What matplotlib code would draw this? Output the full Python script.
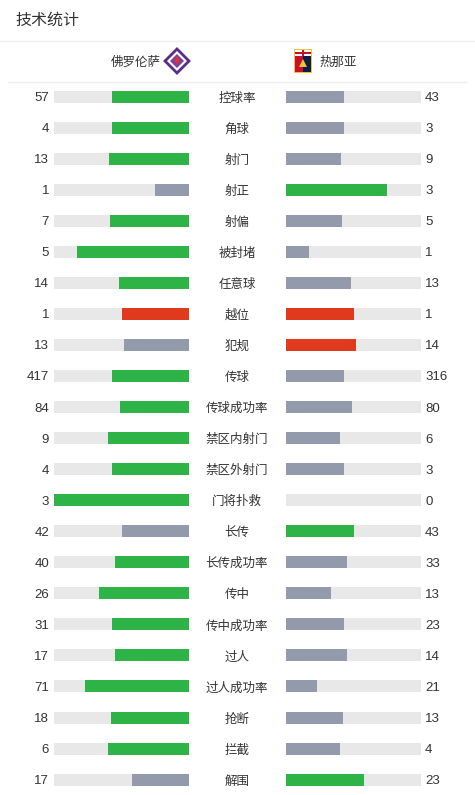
import numpy as np
import matplotlib.pyplot as plt
from matplotlib.patches import Polygon, Rectangle

plt.rcParams['font.family'] = ['Noto Sans CJK SC', 'DejaVu Sans']

home_team = '佛罗伦萨'
away_team = '热那亚'

stats = ['控球率', '角球', '射门', '射正', '射偏', '被封堵', '任意球', '越位', '犯规',
         '传球', '传球成功率', '禁区内射门', '禁区外射门', '门将扑救', '长传', '长传成功率',
         '传中', '传中成功率', '过人', '过人成功率', '抢断', '拦截', '解围']
home = [57, 4, 13, 1, 7, 5, 14, 1, 13, 417, 84, 9, 4, 3, 42, 40, 26, 31, 17, 71, 18, 6, 17]
away = [43, 3, 9, 3, 5, 1, 13, 1, 14, 316, 80, 6, 3, 0, 43, 33, 13, 23, 14, 21, 13, 4, 23]
negative_stats = ['越位', '犯规']

GREEN = '#2eb346'
GREY = '#939aab'
RED = '#e03a1e'
TRACK = '#e8e8e8'
NUM_FONT = ['Liberation Sans', 'DejaVu Sans']


def bar_colors(name, h, a):
    if name in negative_stats:
        return (RED if h >= a else GREY), (RED if a >= h else GREY)
    return (GREEN if h >= a else GREY), (GREEN if a >= h else GREY)


fig = plt.figure(figsize=(4.75, 7.95), dpi=100)
ax = fig.add_axes([0, 0, 1, 1])
ax.set_xlim(0, 475)
ax.set_ylim(795, 0)
ax.axis('off')

# title + header
ax.text(15, 20, '技术统计', fontsize=11.5, color='#333333', va='center', ha='left')
ax.plot([0, 475], [40.5, 40.5], color='#eeeeee', lw=1)
ax.plot([8, 466], [81.5, 81.5], color='#eeeeee', lw=1)
ax.text(161, 61, home_team, fontsize=9, color='#333333', va='center_baseline', ha='right')
ax.text(319, 61, away_team, fontsize=9, color='#333333', va='center_baseline', ha='left')

# fiorentina badge (simplified)
cx, cy = 177, 61
ax.add_patch(Polygon([[cx, cy - 12], [cx + 12, cy], [cx, cy + 12], [cx - 12, cy]],
                     closed=True, fc='white', ec='#5b2d86', lw=2))
ax.add_patch(Polygon([[cx, cy - 7], [cx + 7, cy], [cx, cy + 7], [cx - 7, cy]],
                     closed=True, fc='#7b3fa6', ec='none'))
ax.add_patch(Polygon([[cx, cy - 5], [cx + 3, cy], [cx, cy + 3], [cx - 3, cy]],
                     closed=True, fc='#e2342b', ec='none'))

# genoa badge (simplified)
gx, gy = 303, 61
ax.add_patch(Rectangle((gx - 9, gy - 12), 18, 24, fc='#f2c230', ec='none'))
ax.add_patch(Rectangle((gx - 8, gy - 11), 8, 22, fc='#c8102e', ec='none'))
ax.add_patch(Rectangle((gx, gy - 11), 8, 22, fc='#0b2049', ec='none'))
ax.add_patch(Rectangle((gx - 8, gy - 11), 16, 6, fc='white', ec='none'))
ax.add_patch(Rectangle((gx - 8, gy - 9), 16, 1.5, fc='#c8102e', ec='none'))
ax.add_patch(Rectangle((gx - 1, gy - 11), 2, 6, fc='#c8102e', ec='none'))
ax.add_patch(Polygon([[gx - 4, gy + 6], [gx, gy - 2], [gx + 4, gy + 6]], closed=True,
                     fc='#f2c230', ec='none'))

# rows
left_x0, right_x0, bar_w, bar_h = 54, 286, 135, 12
y = 96.5 + np.arange(len(stats)) * 31.05

for i, (name, h, a) in enumerate(zip(stats, home, away)):
    total = h + a
    hf = h / total if total else 0
    af = a / total if total else 0
    hc, ac = bar_colors(name, h, a)
    ax.barh(y[i], bar_w, left=left_x0, height=bar_h, color=TRACK)
    ax.barh(y[i], bar_w, left=right_x0, height=bar_h, color=TRACK)
    ax.barh(y[i], bar_w * hf, left=left_x0 + bar_w * (1 - hf), height=bar_h, color=hc)
    ax.barh(y[i], bar_w * af, left=right_x0, height=bar_h, color=ac)
    ax.text(49, y[i], str(h), fontsize=9.5, color='#333333', va='center_baseline',
            ha='right', family=NUM_FONT)
    ax.text(425, y[i], str(a), fontsize=9.5, color='#333333', va='center_baseline',
            ha='left', family=NUM_FONT)
    ax.text(237, y[i], name, fontsize=9, color='#333333', va='center_baseline', ha='center')

fig.savefig('out.png', dpi=100, facecolor='white')
